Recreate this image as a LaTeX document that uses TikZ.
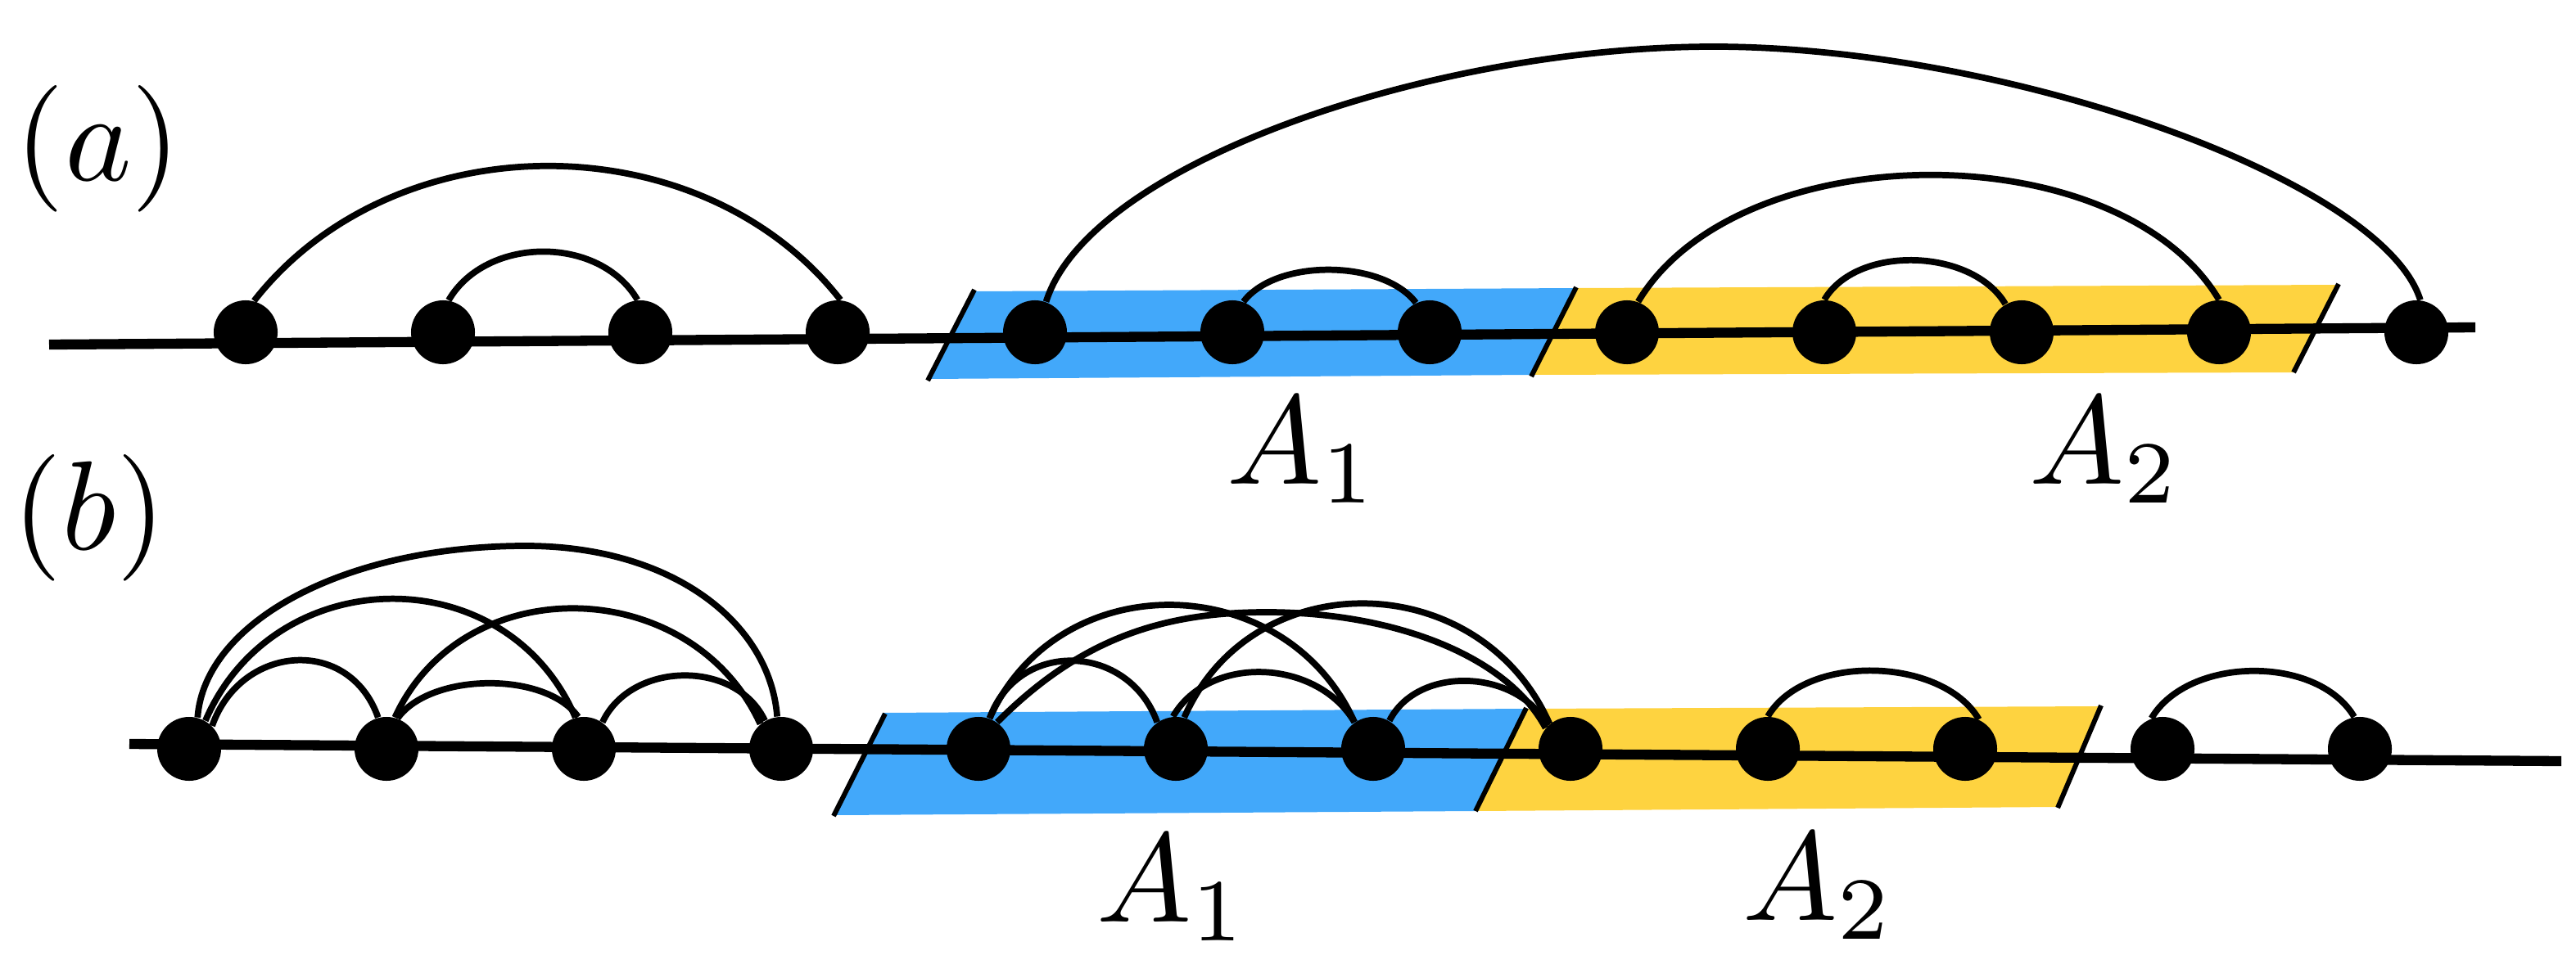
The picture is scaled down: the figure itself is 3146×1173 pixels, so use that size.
\documentclass[tikz,border=0pt]{standalone}
\definecolor{blueA}{RGB}{66,168,250}
\definecolor{yellowA}{RGB}{254,211,64}
\pgfdeclarelayer{bg}
\pgfsetlayers{bg,main}
\newcommand{\biglbl}[1]{\scalebox{4.4}{$#1$}}
\begin{document}
\begin{tikzpicture}[x=0.01cm,y=-0.01cm,
  dot/.style={circle,fill=black,inner sep=0pt,minimum size=0.78cm},
  chainline/.style={line width=3.5pt},
  arcline/.style={line width=2.2pt},
  cutline/.style={line width=1.7pt},
  lbl/.style={anchor=base,inner sep=0pt}]
\useasboundingbox (0,0) rectangle (3146,1173);

% dots
\foreach \i in {1,...,12} {
  \node[dot] (a\i) at ({300+241*(\i-1)},406) {};
  \node[dot] (b\i) at ({231+241*(\i-1)},915) {};
}

% coordinates
\coordinate (aL) at (60,421);
\coordinate (aR) at (3023,400);
\coordinate (bL) at (158,909);
\coordinate (bR) at (3128,930);
\coordinate (ac1t) at (1190,354); \coordinate (ac1b) at (1133,465);
\coordinate (ac2t) at (1925,351); \coordinate (ac2b) at (1870,460);
\coordinate (ac3t) at (2856,347); \coordinate (ac3b) at (2801,455);
\coordinate (bc1t) at (1081,872); \coordinate (bc1b) at (1018,997);
\coordinate (bc2t) at (1864,865); \coordinate (bc2b) at (1802,991);
\coordinate (bc3t) at (2566,862); \coordinate (bc3b) at (2513,987);

\begin{pgfonlayer}{bg}
% regions
\fill[blueA] (1190,356) -- (1925,352) -- (1870,458) -- (1133,463) -- cycle;
\fill[yellowA] (1925,352) -- (2856,348) -- (2801,455) -- (1870,458) -- cycle;
\fill[blueA] (1078,871) -- (1864,866) -- (1802,991) -- (1020,996) -- cycle;
\fill[yellowA] (1864,866) -- (2566,863) -- (2513,986) -- (1802,991) -- cycle;

% chains
\draw[chainline] (aL) -- (aR);
\draw[chainline] (bL) -- (bR);

% cuts
\draw[cutline] (ac1t) -- (ac1b);
\draw[cutline] (ac2t) -- (ac2b);
\draw[cutline] (ac3t) -- (ac3b);
\draw[cutline] (bc1t) -- (bc1b);
\draw[cutline] (bc2t) -- (bc2b);
\draw[cutline] (bc3t) -- (bc3b);

% arcs (a)
\draw[arcline] (a1.75) .. controls +(171,-219) and +(-171,-219) .. (a4.85);
\draw[arcline] (a2.80) .. controls +(46,-79) and +(-46,-79) .. (a3.95);
\draw[arcline] (a5.70) .. controls (1330,200) and (1750,57) .. (2093,57)
                       .. controls (2450,57) and (2910,220) .. (a12.83);
\draw[arcline] (a6.70) .. controls +(40,-53) and +(-40,-53) .. (a7.115);
\draw[arcline] (a8.70) .. controls +(122,-205) and +(-122,-205) .. (a11.90);
\draw[arcline] (a9.90) .. controls +(40,-68) and +(-40,-68) .. (a10.120);

% arcs (b) left group
\draw[arcline] (b1.75) .. controls (250,760) and (420,667) .. (642,667)
                       .. controls (820,667) and (940,760) .. (b4.97);
\draw[arcline] (b1.60) .. controls +(84,-196) and +(-84,-196) .. (b3.105);
\draw[arcline] (b2.75) .. controls +(84,-183) and +(-84,-183) .. (b4.130);
\draw[arcline] (b1.45) .. controls +(35,-100) and +(-35,-100) .. (b2.105);
\draw[arcline] (b2.70) .. controls +(40,-56) and +(-40,-56) .. (b3.100);
\draw[arcline] (b3.55) .. controls +(35,-75) and +(-35,-75) .. (b4.120);

% arcs (b) middle group
\draw[arcline] (b5.70) .. controls +(35,-97) and +(-35,-97) .. (b6.125);
\draw[arcline] (b6.95) .. controls +(45,-77) and +(-45,-77) .. (b7.125);
\draw[arcline] (b7.60) .. controls +(35,-69) and +(-35,-69) .. (b8.135);
\draw[arcline] (b5.70) .. controls +(84,-188) and +(-84,-188) .. (b7.125);
\draw[arcline] (b6.75) .. controls +(84,-191) and +(-84,-191) .. (b8.130);
\draw[arcline] (b5.55) .. controls (1320,780) and (1420,748) .. (1547,748)
                       .. controls (1700,748) and (1840,800) .. (b8.140);

% arcs (b) right group
\draw[arcline] (b9.90) .. controls +(45,-77) and +(-45,-77) .. (b10.65);
\draw[arcline] (b11.110) .. controls +(45,-76) and +(-45,-76) .. (b12.100);
\end{pgfonlayer}

% labels
\node[lbl] (la) at (120,221) {\biglbl{(a)}};
\node[lbl] (lb) at (109,671) {\biglbl{(b)}};
\node[lbl] (A1a) at (1591,591) {\biglbl{A_1}};
\node[lbl] (A2a) at (2571,591) {\biglbl{A_2}};
\node[lbl] (A1b) at (1432,1126) {\biglbl{A_1}};
\node[lbl] (A2b) at (2221,1124) {\biglbl{A_2}};
\end{tikzpicture}
\end{document}
